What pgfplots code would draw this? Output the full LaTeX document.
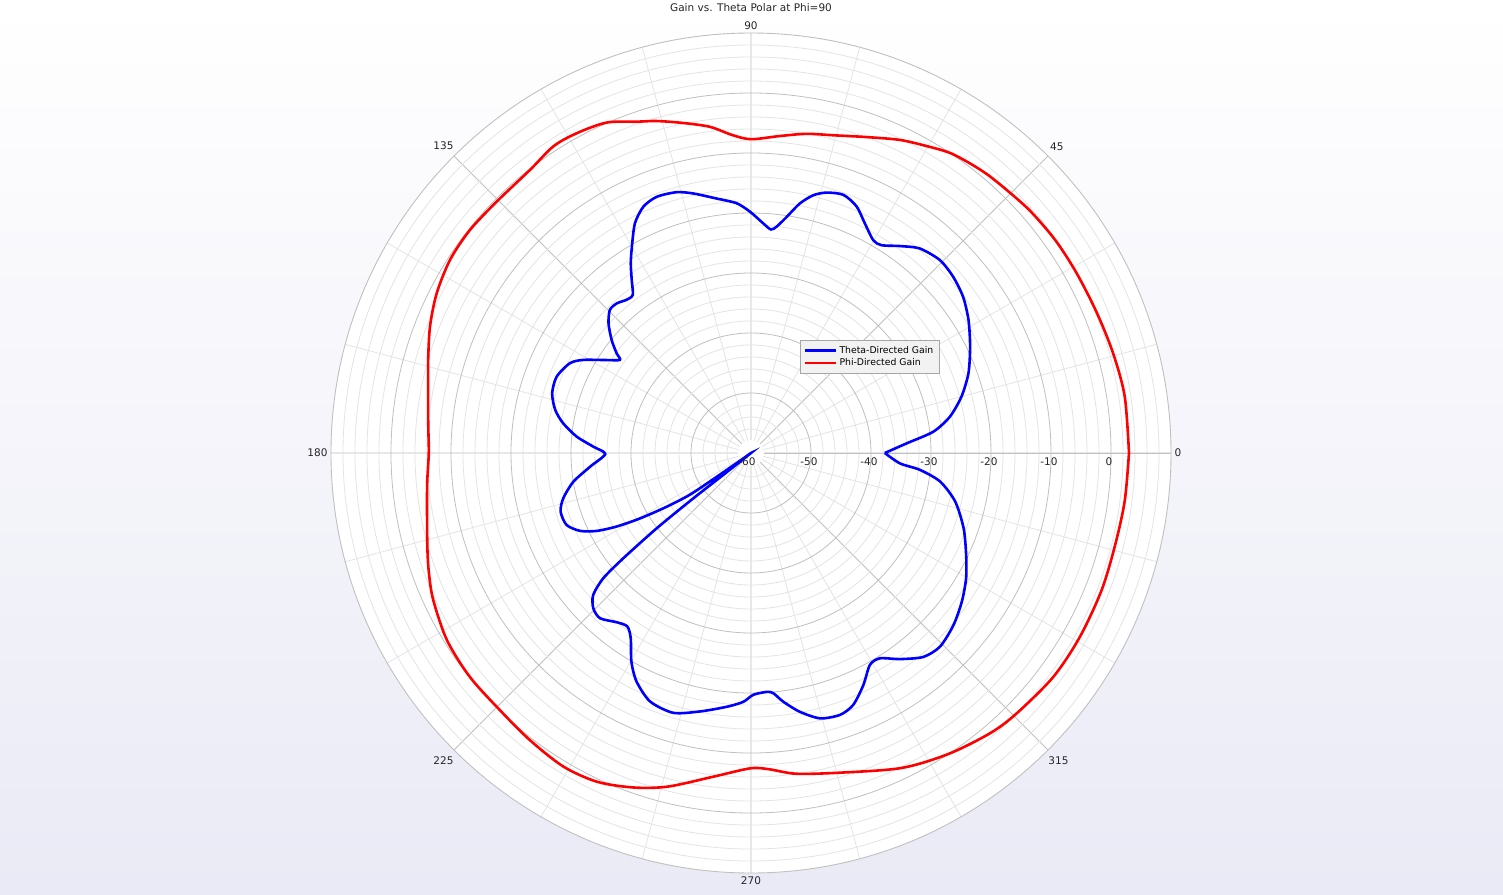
\documentclass[border=0pt]{standalone}
\usepackage{pgfplots}
\pgfplotsset{compat=1.18}
\usepackage{pgfplotstable}
\usepgfplotslibrary{polar}
\usepackage{fontspec}
\setmainfont{DejaVu Sans}

\definecolor{bgbot}{RGB}{234,234,246}
\definecolor{gridmaj}{RGB}{192,192,192}
\definecolor{gridmin}{RGB}{228,228,228}
\definecolor{legfill}{RGB}{242,242,242}

% theta-directed gain: angle (deg), gain (dB)
\pgfplotstableread{
a g
0 -37.7
3.55 -34.0
6.67 -29.4
10.35 -26.3
14.97 -23.7
20.13 -21.4
25.9 -19.4
31.46 -17.5
36.36 -16.1
41.07 -15.3
45.6 -15.0
50.45 -15.8
54.25 -17.5
57.86 -19.1
60.1 -19.1
63.6 -17.3
66.8 -15.3
70.3 -14.3
73.8 -14.8
76.4 -15.8
78.9 -17.6
81.4 -20.2
83.5 -22.0
84.9 -22.6
86.9 -21.7
90.2 -19.8
93.3 -18.3
97.7 -17.2
102.5 -15.7
105.9 -14.8
110.2 -14.5
113.6 -15.2
116.8 -17.1
120.0 -20.3
122.4 -22.6
124.6 -25.0
126.8 -27.1
129.1 -27.1
131.9 -26.5
134.6 -26.5
137.7 -27.9
140.96 -30.1
143.4 -32.1
144.6 -33.2
147.2 -31.4
151.0 -28.0
153.65 -26.3
158.56 -25.2
163.3 -25.4
167.6 -26.6
171.0 -28.3
174.6 -30.8
177.7 -33.7
180.4 -35.7
184.85 -33.1
189.2 -30.0
193.6 -27.8
197.1 -26.8
201.3 -27.0
204.5 -28.7
206.8 -31.2
208.7 -34.5
210.5 -38.5
212.5 -43.3
214.3 -47.7
214.8 -53.0
215.3 -57.8
216.5 -60.0
218.3 -55.0
218.2 -47.2
218.6 -39.9
219.5 -32.4
220.3 -27.7
222.0 -24.6
224.6 -23.1
227.6 -22.7
231.6 -24.0
234.5 -24.5
237.0 -23.2
240.2 -19.9
243.4 -17.4
247.9 -15.3
253.35 -14.8
258.85 -16.1
264.5 -17.5
268.2 -18.5
270.55 -19.7
273.8 -20.1
275.3 -19.8
277.4 -18.2
280.7 -16.1
284.6 -14.3
288.8 -13.9
292.1 -14.7
295.8 -17.0
299.3 -19.5
302.1 -19.6
305.9 -17.6
310.2 -15.5
314.3 -14.9
319.6 -15.7
324.8 -17.0
329.75 -18.5
334.6 -20.3
340.5 -22.4
346.6 -25.0
351.4 -28.1
354.3 -31.7
356.0 -35.1
360 -37.7
}\thetagain

% phi-directed gain
\pgfplotstableread{
a g
0 3.0
8.6 3.0
15.4 2.6
22.0 2.2
28.9 2.0
34.9 1.9
40.7 1.6
45.1 1.2
49.5 0.9
53.0 0.5
56.5 0.0
60.0 -1.0
64.5 -2.2
69.8 -3.9
75.5 -5.3
80.1 -6.0
84.8 -6.95
90.0 -7.7
93.4 -6.9
97.2 -5.2
101.6 -3.85
105.8 -2.5
109.0 -1.6
113.6 0.1
118.6 0.7
122.8 0.8
128.0 -0.15
135.3 -0.4
141.6 -0.2
147.3 -0.4
153.1 -1.25
158.5 -2.5
163.9 -4.0
168.0 -5.0
172.4 -5.7
176.0 -6.1
180.0 -6.3
185.3 -5.8
191.0 -5.0
196.7 -3.7
200.5 -2.7
204.8 -1.65
211.6 -0.5
218.5 -0.1
225.7 -0.1
232.4 0.4
239.1 0.9
244.9 0.5
250.6 -0.9
256.0 -2.7
263.4 -5.7
269.9 -7.45
273.3 -7.2
278.1 -6.0
286.0 -4.6
295.6 -1.8
303.3 0.0
310.5 1.4
315.6 2.0
323.5 2.7
330.8 2.8
338.7 2.75
346.1 2.6
352.8 2.8
360 3.0
}\phigain

\begin{document}
\begin{tikzpicture}
\shade[top color=white, bottom color=bgbot] (-751pt,-441pt) rectangle (752pt,453pt);
\fill[white] (0,0) circle (420pt);
\node[font=\fontsize{10.5}{12}\selectfont, text=black!85] at (0,445pt) {Gain vs. Theta Polar at Phi=90};
\begin{polaraxis}[
  at={(0,0)}, anchor=center,
  scale only axis, width=840pt, height=840pt,
  xmin=0, xmax=360,
  ymin=0, ymax=70,
  xtick={0,45,...,315},
  minor xtick={15,30,60,75,105,120,150,165,195,210,240,255,285,300,330,345},
  xticklabel={\pgfmathprintnumber[assume math mode=true]{\tick}},
  ytick={0,10,...,60},
  yticklabels={-60,-50,-40,-30,-20,-10,0},
  yticklabel style={anchor=north, xshift=-2pt, yshift=-1pt},
  minor ytick={2,4,6,8,12,14,16,18,22,24,26,28,32,34,36,38,42,44,46,48,52,54,56,58,62,64,66,68},
  grid=both,
  major grid style={gridmaj, line width=0.8pt},
  minor grid style={gridmin, line width=0.8pt},
  axis line style={gridmaj, line width=0.9pt},
  major tick length=0pt, minor tick length=0pt,
  tick label style={font=\fontsize{10.5}{12}\selectfont, text=black!85},
  legend style={at={(0.558,0.6345)}, anchor=north west, fill=legfill,
    draw=gray!70, font=\fontsize{9.3}{11}\selectfont, cells={anchor=west},
    inner xsep=4pt, inner ysep=4pt, row sep=0pt},
  legend image code/.code={\draw[#1, line width=2.6pt] (0pt,0pt) -- (31pt,0pt);},
]
\fill[white] (axis cs:0,0) circle (13pt);
\addplot[blue, line width=2.6pt, smooth, tension=0.45] table[x=a, y expr=\thisrow{g}+60] {\thetagain};
\addlegendentry{Theta-Directed Gain}
\addplot[red, line width=2.6pt, smooth, tension=0.5] table[x=a, y expr=\thisrow{g}+60] {\phigain};
\addlegendentry{Phi-Directed Gain}
\node[anchor=north, xshift=-4pt, yshift=-1pt, font=\fontsize{10.5}{12}\selectfont, text=black!85] at (axis cs:0,0) {-60};
\end{polaraxis}
\end{tikzpicture}
\end{document}
